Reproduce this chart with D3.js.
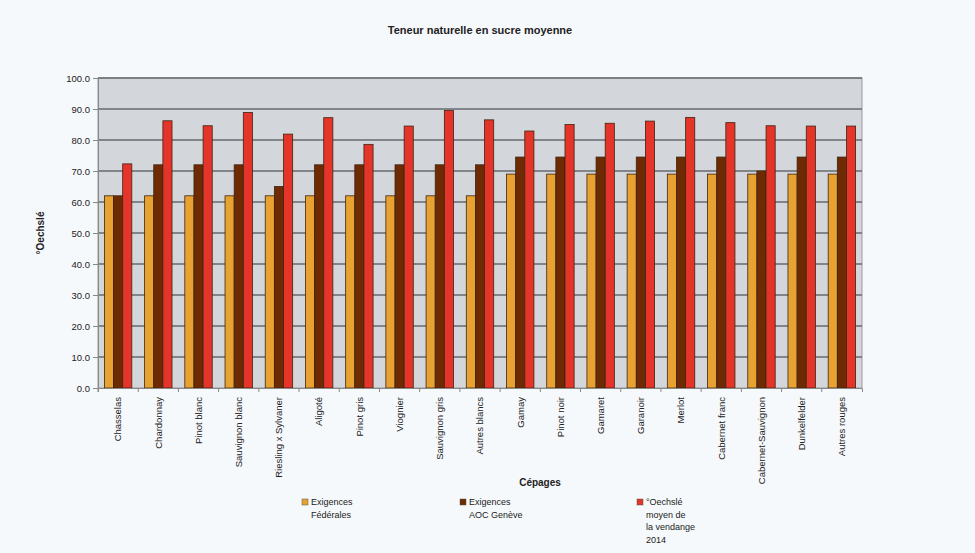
<html>
<head>
    <script src="https://d3js.org/d3.v7.min.js"></script>
    <style>
        body { margin: 0; background: #f6f9fb; }
        text { font-family: "Liberation Sans", Arial, sans-serif; fill: #222; }
    </style>
</head>
<body>
    <svg id="chart" width="975" height="553"></svg>

    <script>
    // data
    const cepages = ["Chasselas", "Chardonnay", "Pinot blanc", "Sauvignon blanc", "Riesling x Sylvaner",
        "Aligoté", "Pinot gris", "Viognier", "Sauvignon gris", "Autres blancs", "Gamay", "Pinot noir",
        "Gamaret", "Garanoir", "Merlot", "Cabernet franc", "Cabernet-Sauvignon", "Dunkelfelder", "Autres rouges"];
    const federales = [62, 62, 62, 62, 62, 62, 62, 62, 62, 62, 69, 69, 69, 69, 69, 69, 69, 69, 69];
    const aocGeneve = [62, 72, 72, 72, 65, 72, 72, 72, 72, 72, 74.5, 74.5, 74.5, 74.5, 74.5, 74.5, 70, 74.5, 74.5];
    const moyenne2014 = [72.3, 86.2, 84.6, 88.9, 81.9, 87.2, 78.6, 84.5, 89.5, 86.5, 82.9, 85, 85.4, 86.1, 87.3, 85.6, 84.6, 84.5, 84.5];
    const seriesNames = [["Exigences", "Fédérales"], ["Exigences", "AOC Genève"], ["°Oechslé", "moyen de", "la vendange", "2014"]];
    const yTicks = [0, 10, 20, 30, 40, 50, 60, 70, 80, 90, 100];

    const svg = d3.select("#chart");
    const colors = ["#e8a232", "#6e2a02", "#e5342a"];
    const series = [federales, aocGeneve, moyenne2014];

    const plotL = 98, plotR = 862, plotT = 78, plotB = 388;

    const x = d3.scaleBand().domain(cepages).range([plotL, plotR]);
    const xs = d3.scaleBand().domain([0, 1, 2]).range([0, x.bandwidth()]).paddingInner(0).paddingOuter(0.7);
    const y = d3.scaleLinear().domain([0, 100]).range([plotB, plotT]);

    // title
    svg.append("text")
        .attr("x", 480).attr("y", 34)
        .attr("text-anchor", "middle")
        .style("font-size", "11px").style("font-weight", "bold")
        .text("Teneur naturelle en sucre moyenne");

    // plot area
    svg.append("rect")
        .attr("x", plotL).attr("y", plotT)
        .attr("width", plotR - plotL).attr("height", plotB - plotT)
        .attr("fill", "#d3d7db").attr("stroke", "#999");

    // grid
    svg.append("g").selectAll("line").data(yTicks.slice(1))
        .join("line")
        .attr("x1", plotL).attr("x2", plotR)
        .attr("y1", d => y(d)).attr("y2", d => y(d))
        .attr("stroke", "#666a6e").attr("stroke-width", 1.4);

    // y axis
    const yAxis = svg.append("g")
        .attr("transform", `translate(${plotL},0)`)
        .call(d3.axisLeft(y).tickValues(yTicks).tickFormat(d3.format(".1f")).tickSize(5));
    yAxis.select(".domain").attr("stroke", "#888");
    yAxis.selectAll(".tick line").attr("stroke", "#888");
    yAxis.selectAll("text").style("font-size", "9.5px").attr("fill", "#333");

    svg.append("text")
        .attr("transform", "translate(44,233) rotate(-90)")
        .attr("text-anchor", "middle")
        .style("font-size", "10px").style("font-weight", "bold")
        .text("°Oechslé");

    // bars
    series.forEach((vals, i) => {
        svg.append("g").selectAll("rect").data(vals)
            .join("rect")
            .attr("x", (d, j) => x(cepages[j]) + xs(i))
            .attr("y", d => y(d))
            .attr("width", xs.bandwidth())
            .attr("height", d => plotB - y(d))
            .attr("fill", colors[i])
            .attr("stroke", "#3f2410").attr("stroke-width", 0.8);
    });

    // x axis
    const xAxis = svg.append("g")
        .attr("transform", `translate(0,${plotB})`)
        .call(d3.axisBottom(x).tickSize(4));
    xAxis.select(".domain").attr("stroke", "#888");
    xAxis.selectAll(".tick line").attr("stroke", "#888")
        .attr("transform", `translate(${-x.bandwidth() / 2},0)`);
    xAxis.selectAll("text")
        .style("font-size", "9.5px").attr("fill", "#333")
        .attr("text-anchor", "end")
        .attr("transform", "rotate(-90)")
        .attr("x", -9).attr("y", 0).attr("dy", "0.35em");

    svg.append("text")
        .attr("x", 540).attr("y", 486)
        .attr("text-anchor", "middle")
        .style("font-size", "10px").style("font-weight", "bold")
        .text("Cépages");

    // legend
    const legendX = [302, 460, 637];
    seriesNames.forEach((lines, i) => {
        const g = svg.append("g").attr("transform", `translate(${legendX[i]},499)`);
        g.append("rect").attr("width", 6).attr("height", 6)
            .attr("fill", colors[i]).attr("stroke", "#555").attr("stroke-width", 0.5);
        g.append("text").attr("x", 9).attr("y", 6)
            .style("font-size", "9px")
            .selectAll("tspan").data(lines).join("tspan")
            .attr("x", 9).attr("dy", (d, k) => k === 0 ? 0 : 12.5)
            .text(d => d);
    });
    </script>
</body>
</html>
